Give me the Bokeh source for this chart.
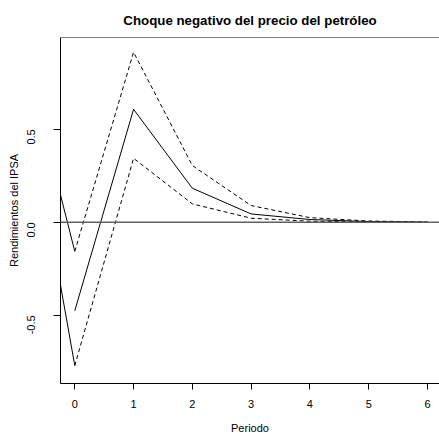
import math
from bokeh.plotting import figure
from bokeh.models import Range1d, FixedTicker, Span
from bokeh.embed import file_html
from bokeh.resources import INLINE

# Data
periodos = [0, 1, 2, 3, 4, 5, 6]
respuesta = [-0.475, 0.607, 0.183, 0.045, 0.015, 0.004, 0.001]
banda_sup = [-0.156, 0.914, 0.305, 0.090, 0.025, 0.007, 0.002]
banda_inf = [-0.770, 0.344, 0.099, 0.022, 0.006, 0.002, 0.000]
# lead-in segments that enter from the left edge (previous period, off-frame)
previo_x = [-1, 0]
previo_sup = [1.09, -0.156]
previo_inf = [1.01, -0.770]

x_ticks = [0, 1, 2, 3, 4, 5, 6]
y_ticks = [-0.5, 0.0, 0.5]
y_tick_labels = {-0.5: "-0.5", 0: "0.0", 0.5: "0.5"}

FONT = "Liberation Sans"

p = figure(width=439, height=439, output_backend="svg", toolbar_location=None,
           x_range=Range1d(-0.243, 6.204), y_range=Range1d(-0.866, 0.993),
           min_border_left=60, min_border_right=0, min_border_top=37, min_border_bottom=56,
           title="Choque negativo del precio del petróleo")
p.title.align = "center"
p.title.text_font = FONT
p.title.text_font_size = "13.3px"
p.title.text_font_style = "bold"
p.title.text_color = "black"
p.title.standoff = 19

p.outline_line_color = None
p.grid.visible = False
p.background_fill_color = "white"
p.border_fill_color = "white"

for ax in (p.xaxis, p.yaxis):
    ax.axis_line_color = "black"
    ax.axis_line_width = 1
    ax.major_tick_line_color = "black"
    ax.major_tick_in = 0
    ax.minor_tick_line_color = None
    ax.major_label_text_font = FONT
    ax.major_label_text_font_size = "11px"
    ax.major_label_text_color = "black"
    ax.axis_label_text_font = FONT
    ax.axis_label_text_font_size = "11px"
    ax.axis_label_text_font_style = "normal"
    ax.axis_label_text_color = "black"

p.xaxis.ticker = FixedTicker(ticks=x_ticks)
p.xaxis.major_tick_out = 6
p.xaxis.major_label_standoff = 10
p.xaxis.axis_label = "Periodo"
p.xaxis.axis_label_standoff = 11

p.yaxis.ticker = FixedTicker(ticks=y_ticks)
p.yaxis.major_label_overrides = y_tick_labels
p.yaxis.major_label_orientation = math.pi / 2
p.yaxis.major_tick_out = 7
p.yaxis.major_label_standoff = 22
p.yaxis.axis_label = "Rendimientos del IPSA"
p.yaxis.axis_label_standoff = 1

# top border of the box
p.add_layout(Span(location=0.993, dimension="width", line_color="black", line_width=1))
# zero line
p.add_layout(Span(location=0.0, dimension="width", line_color="#606060", line_width=1.5))

p.line(previo_x, previo_sup, line_color="black", line_width=1)
p.line(previo_x, previo_inf, line_color="black", line_width=1)

p.line(periodos, respuesta, line_color="black", line_width=1)
p.line(periodos, banda_sup, line_color="black", line_width=1, line_dash="4 3")
p.line(periodos, banda_inf, line_color="black", line_width=1, line_dash="4 3")

open("out.html", "w").write(file_html(p, INLINE))
